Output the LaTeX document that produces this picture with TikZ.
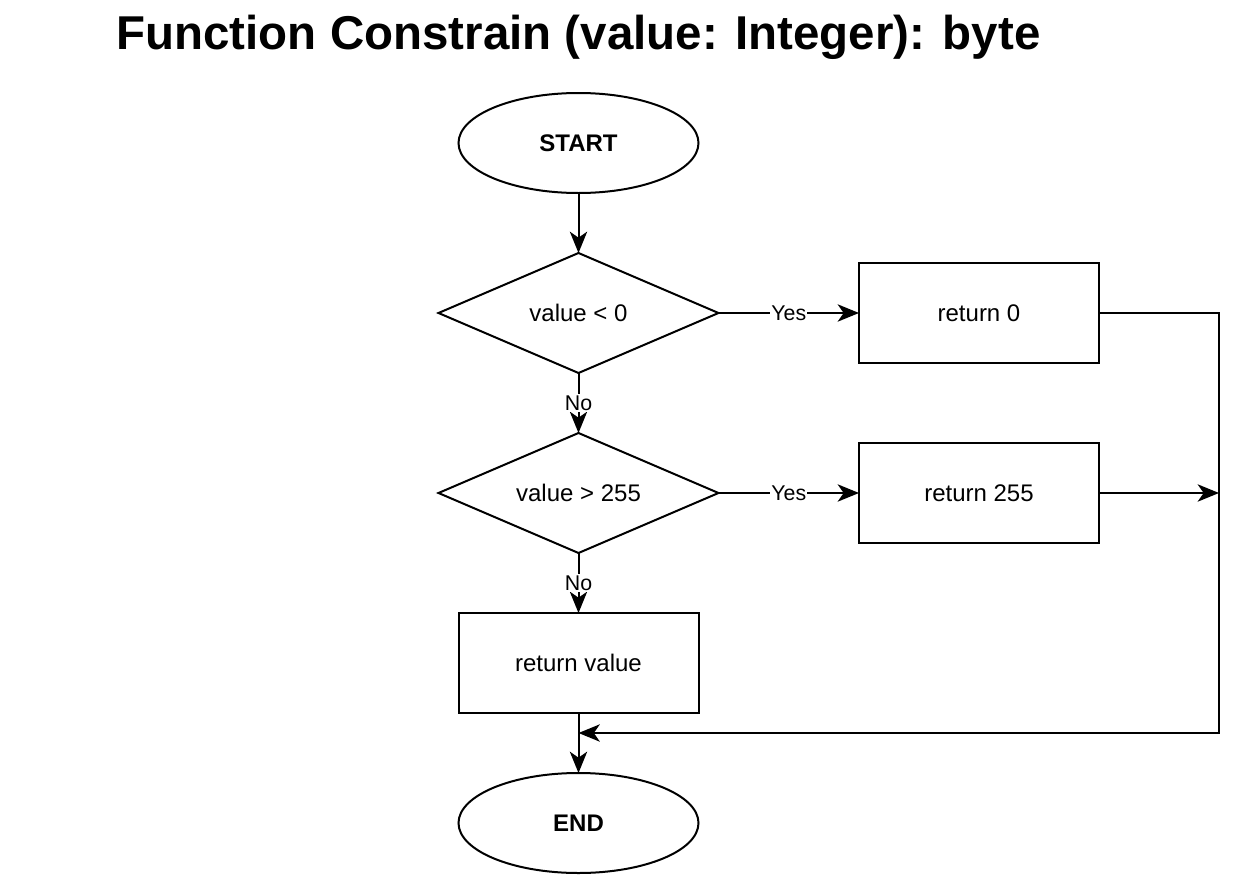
\documentclass[tikz,border=0pt]{standalone}
\usepackage{fontspec}
\setmainfont{Liberation Sans}
\usetikzlibrary{shapes.geometric,arrows.meta}

\begin{document}
\begin{tikzpicture}[x=0.75pt,y=-0.75pt,line width=1.5pt,
	term/.style={draw,ellipse,minimum width=180pt,minimum height=75pt,inner sep=0pt,outer sep=0pt,font=\fontsize{18}{21}\selectfont\bfseries},
	proc/.style={draw,rectangle,minimum width=180pt,minimum height=75pt,inner sep=0pt,outer sep=0pt,font=\fontsize{18}{21}\selectfont},
	test/.style={draw,diamond,minimum width=210pt,minimum height=90pt,aspect=2.333,inner sep=0pt,outer sep=0pt,font=\fontsize{18}{21}\selectfont},
	lbl/.style={fill=white,inner sep=1pt,font=\fontsize{16}{18}\selectfont},
	flow/.style={-{Stealth[length=16pt,width=13pt,inset=4.5pt]}}]
	
	\useasboundingbox (0,0) rectangle (1240,878);
	
	\node (title) at (578.5,37) {\fontsize{35.6}{42}\selectfont\bfseries Function Constrain (value: Integer): byte};
	
	\node[term] (start) at (578.5,143) {START};
	\node[test] (low) at (578.5,313) {value < 0};
	\node[test] (high) at (578.5,493) {value > 255};
	\node[proc] (rzero) at (979,313) {return 0};
	\node[proc] (rmax) at (979,493) {return 255};
	\node[proc] (rval) at (578.5,663) {return value};
	\node[term] (end) at (578.5,823) {END};
	
	\coordinate (corner) at (1219,313);
	\coordinate (merge) at (1219,493);
	\coordinate (back) at (1219,733);
	\coordinate (join) at (578.5,733);
	
	\draw[flow] (start) -- (low);
	\draw[flow] (low) -- node[lbl] {Yes} (rzero);
	\draw[flow] (low) -- node[lbl] {No} (high);
	\draw[flow] (high) -- node[lbl] {Yes} (rmax);
	\draw[flow] (high) -- node[lbl] {No} (rval);
	\draw[flow] (rval) -- (end);
	
	\draw[flow] (rzero) -- (corner) -- (back) -- (join);
	\draw[flow] (rmax) -- (merge);
	
\end{tikzpicture}
\end{document}
